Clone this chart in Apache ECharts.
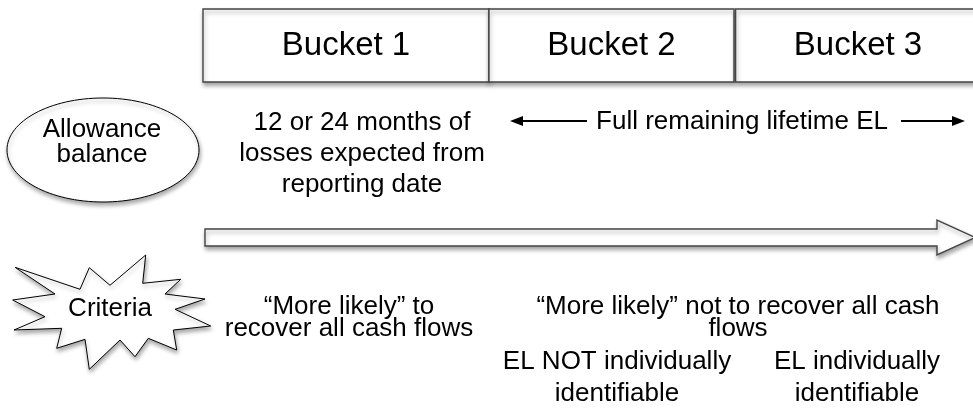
<!DOCTYPE html>
<html>
<head>
<meta charset="utf-8">
<script src="https://cdn.jsdelivr.net/npm/echarts@6/dist/echarts.min.js"></script>
<style>html,body{margin:0;padding:0;background:#fff;}#c{width:973px;height:415px;}</style>
</head>
<body>
<div id="c"></div>
<script>
// ---- content ----
const bucketLabels = ['Bucket 1', 'Bucket 2', 'Bucket 3'];
const allowanceLabel = 'Allowance\nbalance';
const bucket1Text = '12 or 24 months of\nlosses expected from\nreporting date';
const lifetimeText = 'Full remaining lifetime EL';
const criteriaLabel = 'Criteria';
const criteriaTexts = ['\u201CMore likely\u201D to\nrecover all cash flows', '\u201CMore likely\u201D not to recover all cash\nflows'];
const subTexts = ['EL NOT individually\nidentifiable', 'EL individually\nidentifiable'];

// ---- layout (diagram space = pixel space of a hidden cartesian grid) ----
const layout = {
  bucketEdges: [203, 489, 734, 982],
  boxTop: 9, boxBottom: 82,
  ellipse: { cx: 103, cy: 150, rx: 96, ry: 52 },
  allowanceText: [102, 142],
  bucket1Text: [362, 154],
  lifetimeText: [742, 122],
  lifeArrowY: 121,
  lifeArrowLeft: [510, 587],
  lifeArrowRight: [901, 965],
  bigArrow: { x0: 205, x1: 937, top: 229, bottom: 246, headTop: 220, headBottom: 255, tip: 975 },
  star: [[15,267.3],[80,289.3],[89.3,267.7],[110,285.3],[145.7,255],[142.7,283.3],[180.7,279.3],[165,294],[205,299],[175,309.3],[210.7,326],[173.3,330],[176.7,350],[148.3,338.3],[135,356.7],[120,340],[89.3,369.3],[85,339.3],[56.7,348.3],[61.7,328.3],[14,330],[45,316.7],[12.7,300],[55,294]],
  criteriaText: [110, 309],
  criteriaTextPos: [[349, 318], [738, 318]],
  subTextPos: [[617, 378], [857, 378]]
};

const FONT = '"Liberation Sans", Arial, Helvetica, sans-serif';
const shadow = { shadowBlur: 4, shadowOffsetX: 1, shadowOffsetY: 3, shadowColor: 'rgba(0,0,0,0.35)' };

function renderItem(params, api) {
  const c = (x, y) => api.coord([x, y]);
  const children = [];
  const L = layout;

  // Bucket boxes
  bucketLabels.forEach((lab, i) => {
    let x0 = L.bucketEdges[i], x1 = L.bucketEdges[i + 1];
    if (i === 2) x0 += 1.6;
    const p0 = c(x0, L.boxTop), p1 = c(x1, L.boxBottom);
    children.push({
      type: 'rect',
      shape: { x: p0[0], y: p0[1], width: p1[0] - p0[0], height: p1[1] - p0[1] },
      style: Object.assign({ fill: '#fff', stroke: '#444', lineWidth: 1.4 }, shadow)
    });
  });
  bucketLabels.forEach((lab, i) => {
    const x0 = L.bucketEdges[i], x1 = L.bucketEdges[i + 1];
    const p = c(Math.min((x0 + x1) / 2, i === 2 ? 858 : 9999), (L.boxTop + L.boxBottom) / 2);
    children.push({
      type: 'text',
      style: { text: lab, x: p[0], y: p[1], fill: '#000', font: '33px ' + FONT, align: 'center', verticalAlign: 'middle' }
    });
  });

  // Ellipse
  const e = L.ellipse, ec = c(e.cx, e.cy);
  children.push({
    type: 'ellipse',
    shape: { cx: ec[0], cy: ec[1], rx: e.rx, ry: e.ry },
    style: Object.assign({ fill: '#fff', stroke: '#000', lineWidth: 1 }, shadow)
  });
  let p = c(L.allowanceText[0], L.allowanceText[1]);
  children.push({ type: 'text', style: { text: allowanceLabel, x: p[0], y: p[1], fill: '#000', font: '26px ' + FONT, lineHeight: 25, align: 'center', verticalAlign: 'middle' } });

  p = c(L.bucket1Text[0], L.bucket1Text[1]);
  children.push({ type: 'text', style: { text: bucket1Text, x: p[0], y: p[1], fill: '#000', font: '26px ' + FONT, lineHeight: 31, align: 'center', verticalAlign: 'middle' } });

  // Lifetime arrows
  p = c(L.lifetimeText[0], L.lifetimeText[1]);
  children.push({ type: 'text', style: { text: lifetimeText, x: p[0], y: p[1], fill: '#000', font: '26px ' + FONT, align: 'center', verticalAlign: 'middle' } });
  const ay = L.lifeArrowY;
  const la = [c(L.lifeArrowLeft[0], ay), c(L.lifeArrowLeft[1], ay)];
  children.push({ type: 'line', shape: { x1: la[0][0] + 8, y1: la[0][1], x2: la[1][0], y2: la[1][1] }, style: { stroke: '#000', lineWidth: 2 } });
  children.push({ type: 'polygon', shape: { points: [[la[0][0], la[0][1]], [la[0][0] + 13, la[0][1] - 5], [la[0][0] + 13, la[0][1] + 5]] }, style: { fill: '#000' } });
  const ra = [c(L.lifeArrowRight[0], ay), c(L.lifeArrowRight[1], ay)];
  children.push({ type: 'line', shape: { x1: ra[0][0], y1: ra[0][1], x2: ra[1][0] - 8, y2: ra[1][1] }, style: { stroke: '#000', lineWidth: 2 } });
  children.push({ type: 'polygon', shape: { points: [[ra[1][0], ra[1][1]], [ra[1][0] - 13, ra[1][1] - 5], [ra[1][0] - 13, ra[1][1] + 5]] }, style: { fill: '#000' } });

  // Big arrow
  const b = L.bigArrow, mid = (b.top + b.bottom) / 2;
  const pts = [[b.x0, b.top], [b.x1, b.top], [b.x1, b.headTop], [b.tip, mid], [b.x1, b.headBottom], [b.x1, b.bottom], [b.x0, b.bottom]].map(q => c(q[0], q[1]));
  children.push({ type: 'polygon', shape: { points: pts }, style: Object.assign({ fill: '#fff', stroke: '#444', lineWidth: 1.4 }, shadow) });

  // Star
  children.push({ type: 'polygon', shape: { points: L.star.map(q => c(q[0], q[1])) }, style: Object.assign({ fill: '#fff', stroke: '#000', lineWidth: 1 }, shadow) });
  p = c(L.criteriaText[0], L.criteriaText[1]);
  children.push({ type: 'text', style: { text: criteriaLabel, x: p[0], y: p[1], fill: '#000', font: '26px ' + FONT, align: 'center', verticalAlign: 'middle' } });

  criteriaTexts.forEach((t, i) => {
    const q = c(L.criteriaTextPos[i][0], L.criteriaTextPos[i][1]);
    children.push({ type: 'text', style: { text: t, x: q[0], y: q[1], fill: '#000', font: '26px ' + FONT, lineHeight: 22, align: 'center', verticalAlign: 'middle' } });
  });
  subTexts.forEach((t, i) => {
    const q = c(L.subTextPos[i][0], L.subTextPos[i][1]);
    children.push({ type: 'text', style: { text: t, x: q[0], y: q[1], fill: '#000', font: '26px ' + FONT, lineHeight: 32, align: 'center', verticalAlign: 'middle' } });
  });

  return { type: 'group', children };
}

const chart = echarts.init(document.getElementById('c'), null, { renderer: 'canvas' });
chart.setOption({
  animation: false,
  backgroundColor: '#fff',
  grid: { left: 0, right: 0, top: 0, bottom: 0 },
  xAxis: { type: 'value', min: 0, max: 973, show: false },
  yAxis: { type: 'value', min: 0, max: 415, inverse: true, show: false },
  series: [{
    type: 'custom',
    renderItem: renderItem,
    data: [[0, 0]],
    clip: false,
    silent: true
  }]
});
</script>
</body>
</html>
